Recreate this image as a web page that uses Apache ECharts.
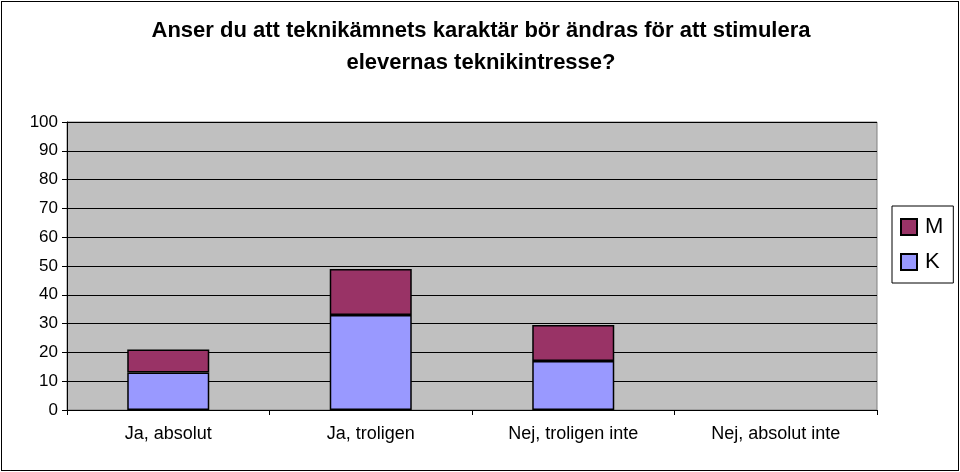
<!DOCTYPE html>
<html><head><meta charset="utf-8">
<script src="https://cdn.jsdelivr.net/npm/echarts@6/dist/echarts.min.js"></script>
<style>html,body{margin:0;padding:0;background:#fff}#c{width:960px;height:472px}
#frame{position:absolute;left:1px;top:1px;width:956px;height:468px;border:1px solid #000;pointer-events:none}</style>
</head><body><div id="c"></div><div id="frame"></div>
<script>
const categories = ['Ja, absolut', 'Ja, troligen', 'Nej, troligen inte', 'Nej, absolut inte'];
const valuesK = [13, 33, 17, 0];
const valuesM = [8, 16, 12.5, 0];
const yTicks = [0, 10, 20, 30, 40, 50, 60, 70, 80, 90, 100];
const titleText = 'Anser du att teknikämnets karaktär bör ändras för att stimulera\nelevernas teknikintresse?';

const hideZero = arr => arr.map(v => v === 0 ? '-' : v);

const chart = echarts.init(document.getElementById('c'));
chart.setOption({
  animation: false,
  backgroundColor: '#fff',
  title: {
    text: titleText, left: 476, top: 10, textAlign: 'center',
    textStyle: {fontFamily: 'Liberation Sans, Arial', fontSize: 22, fontWeight: 'bold', color: '#000', lineHeight: 32}
  },
  legend: {
    orient: 'vertical', left: 892, top: 206,
    data: ['M', 'K'],
    itemWidth: 16, itemHeight: 16, itemGap: 13,
    padding: [10, 10, 10, 8],
    borderColor: '#000', borderWidth: 1,
    textStyle: {fontFamily: 'Liberation Sans, Arial', fontSize: 22, color: '#000', padding: [0, 0, 0, 3]},
    icon: 'rect'
  },
  grid: {left: 67, right: 83, top: 122, bottom: 62, show: true, backgroundColor: '#c0c0c0', borderColor: '#808080', borderWidth: 1},
  xAxis: {
    type: 'category', data: categories,
    axisLine: {lineStyle: {color: '#000', width: 1}},
    axisTick: {show: true, length: 5, lineStyle: {color: '#000'}},
    axisLabel: {fontFamily: 'Liberation Sans, Arial', fontSize: 18, color: '#000', margin: 15}
  },
  yAxis: {
    type: 'value', min: 0, max: 100, interval: 10,
    axisLine: {show: true, lineStyle: {color: '#000'}},
    axisTick: {show: true, length: 5, lineStyle: {color: '#000'}},
    axisLabel: {fontFamily: 'Liberation Sans, Arial', fontSize: 17, color: '#000', margin: 9,
      formatter: v => yTicks.includes(v) ? String(v) : ''},
    splitLine: {lineStyle: {color: '#000', width: 1}}
  },
  series: [
    {name: 'K', type: 'bar', stack: 's', data: hideZero(valuesK), barWidth: '40.5%',
     itemStyle: {color: '#9999ff', borderColor: '#000', borderWidth: 1.5}},
    {name: 'M', type: 'bar', stack: 's', data: hideZero(valuesM), barWidth: '40.5%',
     itemStyle: {color: '#993366', borderColor: '#000', borderWidth: 1.5}}
  ]
});
</script></body></html>
